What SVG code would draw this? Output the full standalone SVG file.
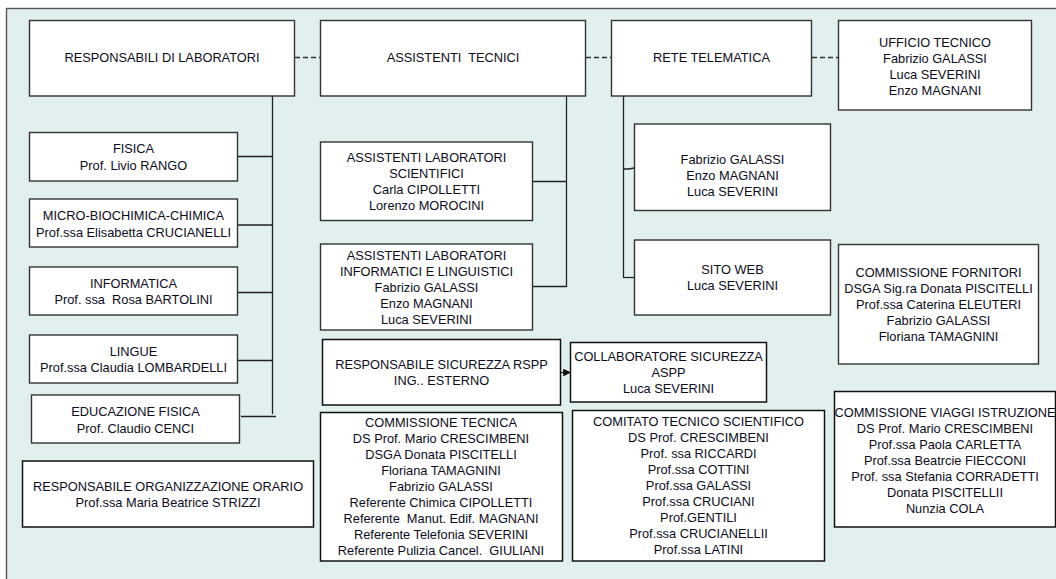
<svg xmlns="http://www.w3.org/2000/svg" width="1056" height="579" viewBox="0 0 1056 579">
  <defs>
    <style>
      .box { fill: #ffffff; stroke: #333333; stroke-width: 1.4; }
      .box2 { fill: #ffffff; stroke: #111111; stroke-width: 1.5; }
      .lbl { font-family: "Liberation Sans", Arial, sans-serif; font-size: 12.8px; fill: #0c0c1c; text-anchor: middle; }
      .wire { stroke: #222222; stroke-width: 1.3; fill: none; }
      .dash { stroke: #333333; stroke-width: 1.3; fill: none; stroke-dasharray: 5 3; }
    </style>
    <marker id="arrowHead" viewBox="0 0 8 8" refX="7" refY="4" markerWidth="6" markerHeight="6" orient="auto">
      <path d="M0,0 L8,4 L0,8 z" fill="#111111"/>
    </marker>
  </defs>

  <!-- background panel -->
  <rect x="0" y="0" width="1056" height="579" fill="#ffffff"/>
  <rect x="6.5" y="8.5" width="1060" height="580" fill="#e2efef" stroke="#555555" stroke-width="1.4"/>

  <!-- connectors -->
  <g id="connectors">
    <line class="dash" x1="295" y1="57.5" x2="320" y2="57.5"/>
    <line class="dash" x1="586" y1="57.5" x2="611" y2="57.5"/>
    <line class="dash" x1="812" y1="57.5" x2="838" y2="57.5"/>
    <!-- laboratories -->
    <line class="wire" x1="272.5" y1="96" x2="272.5" y2="414"/>
    <line class="wire" x1="237.5" y1="156.5" x2="272.5" y2="156.5"/>
    <line class="wire" x1="237.5" y1="225" x2="272.5" y2="225"/>
    <line class="wire" x1="237.5" y1="292.5" x2="272.5" y2="292.5"/>
    <line class="wire" x1="237.5" y1="360.5" x2="272.5" y2="360.5"/>
    <line class="wire" x1="241" y1="416.5" x2="276" y2="416.5"/>
    <!-- technical assistants -->
    <line class="wire" x1="566.5" y1="96" x2="566.5" y2="287"/>
    <line class="wire" x1="532.5" y1="181.5" x2="566.5" y2="181.5"/>
    <line class="wire" x1="532.5" y1="286.5" x2="566.5" y2="286.5"/>
    <!-- network -->
    <line class="wire" x1="623.5" y1="96" x2="623.5" y2="278"/>
    <path class="wire" d="M623.5,169 L629,169 L634,168"/>
    <line class="wire" x1="623.5" y1="277.5" x2="634" y2="277.5"/>
    <!-- safety -->
    <line class="wire" x1="561" y1="372.5" x2="570" y2="372.5" marker-end="url(#arrowHead)"/>
  </g>

  <g id="resp-lab">
    <rect class="box" x="29.5" y="20.5" width="265" height="75.5"/>
    <text class="lbl" x="162" y="62">RESPONSABILI DI LABORATORI</text>
  </g>
  <g id="assistenti-tecnici">
    <rect class="box" x="320.5" y="20.5" width="265" height="75.5"/>
    <text class="lbl" x="453" y="62" xml:space="preserve">ASSISTENTI  TECNICI</text>
  </g>
  <g id="rete-telematica">
    <rect class="box" x="611.5" y="20.5" width="200" height="75.5"/>
    <text class="lbl" x="711.5" y="62">RETE TELEMATICA</text>
  </g>
  <g id="ufficio-tecnico">
    <rect class="box" x="838.5" y="20.5" width="193" height="89.5"/>
    <text class="lbl" x="935" y="46.5">UFFICIO TECNICO</text>
    <text class="lbl" x="935" y="62.5">Fabrizio GALASSI</text>
    <text class="lbl" x="935" y="78.5">Luca SEVERINI</text>
    <text class="lbl" x="935" y="94.5">Enzo MAGNANI</text>
  </g>

  <g id="fisica">
    <rect class="box" x="29.5" y="132.5" width="208" height="48.5"/>
    <text class="lbl" x="133.5" y="153">FISICA</text>
    <text class="lbl" x="133.5" y="169.5">Prof. Livio RANGO</text>
  </g>
  <g id="micro-biochimica">
    <rect class="box" x="29.5" y="199" width="208" height="48"/>
    <text class="lbl" x="133.5" y="220">MICRO-BIOCHIMICA-CHIMICA</text>
    <text class="lbl" x="133.5" y="236.5">Prof.ssa Elisabetta CRUCIANELLI</text>
  </g>
  <g id="informatica">
    <rect class="box" x="29.5" y="267" width="208" height="48"/>
    <text class="lbl" x="133.5" y="288">INFORMATICA</text>
    <text class="lbl" x="133.5" y="304" xml:space="preserve">Prof. ssa  Rosa BARTOLINI</text>
  </g>
  <g id="lingue">
    <rect class="box" x="29.5" y="335" width="208" height="48"/>
    <text class="lbl" x="133.5" y="356">LINGUE</text>
    <text class="lbl" x="133.5" y="371.5">Prof.ssa Claudia LOMBARDELLI</text>
  </g>
  <g id="educazione-fisica">
    <rect class="box" x="31.5" y="395" width="208" height="48"/>
    <text class="lbl" x="135.5" y="416">EDUCAZIONE FISICA</text>
    <text class="lbl" x="135.5" y="432.5">Prof. Claudio CENCI</text>
  </g>
  <g id="orario">
    <rect class="box2" x="22.5" y="461" width="291" height="66"/>
    <text class="lbl" x="168" y="490.5">RESPONSABILE ORGANIZZAZIONE ORARIO</text>
    <text class="lbl" x="168" y="506.5">Prof.ssa Maria Beatrice STRIZZI</text>
  </g>

  <g id="lab-scientifici">
    <rect class="box" x="320.5" y="142" width="212" height="78.5"/>
    <text class="lbl" x="426.5" y="161.5">ASSISTENTI LABORATORI</text>
    <text class="lbl" x="426.5" y="177.5">SCIENTIFICI</text>
    <text class="lbl" x="426.5" y="193.5">Carla CIPOLLETTI</text>
    <text class="lbl" x="426.5" y="209.5">Lorenzo MOROCINI</text>
  </g>
  <g id="lab-informatici">
    <rect class="box" x="320.5" y="244" width="212" height="86"/>
    <text class="lbl" x="426.5" y="259.5">ASSISTENTI LABORATORI</text>
    <text class="lbl" x="426.5" y="275.5">INFORMATICI E LINGUISTICI</text>
    <text class="lbl" x="426.5" y="291.5">Fabrizio GALASSI</text>
    <text class="lbl" x="426.5" y="307.5">Enzo MAGNANI</text>
    <text class="lbl" x="426.5" y="323.5">Luca SEVERINI</text>
  </g>

  <g id="rete-staff">
    <rect class="box" x="634.5" y="124" width="196" height="86.5"/>
    <text class="lbl" x="732.5" y="163.5">Fabrizio GALASSI</text>
    <text class="lbl" x="732.5" y="179.5">Enzo MAGNANI</text>
    <text class="lbl" x="732.5" y="195.5">Luca SEVERINI</text>
  </g>
  <g id="sito-web">
    <rect class="box" x="634.5" y="240" width="196" height="75"/>
    <text class="lbl" x="732.5" y="273.5">SITO WEB</text>
    <text class="lbl" x="732.5" y="289.5">Luca SEVERINI</text>
  </g>
  <g id="commissione-fornitori">
    <rect class="box" x="838.5" y="244.5" width="200" height="119.5"/>
    <text class="lbl" x="938.5" y="276.5">COMMISSIONE FORNITORI</text>
    <text class="lbl" x="938.5" y="292.5">DSGA Sig.ra Donata PISCITELLI</text>
    <text class="lbl" x="938.5" y="308.5">Prof.ssa Caterina ELEUTERI</text>
    <text class="lbl" x="938.5" y="324.5">Fabrizio GALASSI</text>
    <text class="lbl" x="938.5" y="340.5">Floriana TAMAGNINI</text>
  </g>

  <g id="rspp">
    <rect class="box2" x="322.5" y="339.5" width="238" height="65.5"/>
    <text class="lbl" x="441.5" y="368.5">RESPONSABILE SICUREZZA RSPP</text>
    <text class="lbl" x="441.5" y="384.5">ING.. ESTERNO</text>
  </g>
  <g id="aspp">
    <rect class="box2" x="570.5" y="342.5" width="196" height="59.5"/>
    <text class="lbl" x="668.5" y="360.5">COLLABORATORE SICUREZZA</text>
    <text class="lbl" x="668.5" y="376.5">ASPP</text>
    <text class="lbl" x="668.5" y="392.5">Luca SEVERINI</text>
  </g>

  <g id="commissione-tecnica">
    <rect class="box2" x="320.5" y="412.5" width="242" height="148.5"/>
    <text class="lbl" x="441" y="426.5">COMMISSIONE TECNICA</text>
    <text class="lbl" x="441" y="442.5">DS Prof. Mario CRESCIMBENI</text>
    <text class="lbl" x="441" y="458.5">DSGA Donata PISCITELLI</text>
    <text class="lbl" x="441" y="474.5">Floriana TAMAGNINI</text>
    <text class="lbl" x="441" y="490.5">Fabrizio GALASSI</text>
    <text class="lbl" x="441" y="506.5">Referente Chimica CIPOLLETTI</text>
    <text class="lbl" x="441" y="522.5" xml:space="preserve">Referente  Manut. Edif. MAGNANI</text>
    <text class="lbl" x="441" y="538.5">Referente Telefonia SEVERINI</text>
    <text class="lbl" x="441" y="554.5" xml:space="preserve">Referente Pulizia Cancel.  GIULIANI</text>
  </g>

  <g id="comitato-tecnico-scientifico">
    <rect class="box2" x="572.5" y="410.5" width="252" height="150.5"/>
    <text class="lbl" x="698.5" y="426">COMITATO TECNICO SCIENTIFICO</text>
    <text class="lbl" x="698.5" y="442">DS Prof. CRESCIMBENI</text>
    <text class="lbl" x="698.5" y="458">Prof. ssa RICCARDI</text>
    <text class="lbl" x="698.5" y="474">Prof.ssa COTTINI</text>
    <text class="lbl" x="698.5" y="490">Prof.ssa GALASSI</text>
    <text class="lbl" x="698.5" y="506">Prof.ssa CRUCIANI</text>
    <text class="lbl" x="698.5" y="522">Prof.GENTILI</text>
    <text class="lbl" x="698.5" y="538">Prof.ssa CRUCIANELLII</text>
    <text class="lbl" x="698.5" y="554">Prof.ssa LATINI</text>
  </g>

  <g id="commissione-viaggi">
    <rect class="box2" x="834.5" y="391.5" width="221" height="135.5"/>
    <text class="lbl" x="945" y="416.5">COMMISSIONE VIAGGI ISTRUZIONE</text>
    <text class="lbl" x="945" y="432.5">DS Prof. Mario CRESCIMBENI</text>
    <text class="lbl" x="945" y="448.5">Prof.ssa Paola CARLETTA</text>
    <text class="lbl" x="945" y="464.5">Prof.ssa Beatrcie FIECCONI</text>
    <text class="lbl" x="945" y="480.5">Prof. ssa Stefania CORRADETTI</text>
    <text class="lbl" x="945" y="496.5">Donata PISCITELLII</text>
    <text class="lbl" x="945" y="512.5">Nunzia COLA</text>
  </g>
</svg>
